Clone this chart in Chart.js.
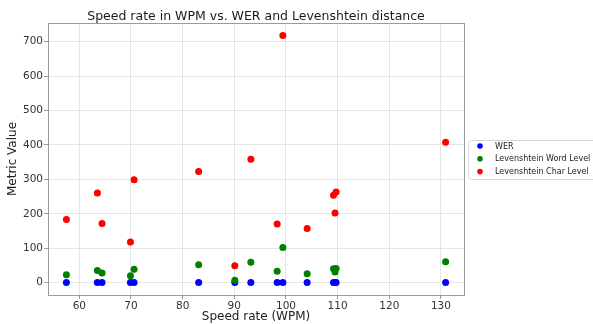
<!DOCTYPE html>
<html>
<head>
<meta charset="utf-8">
<script src="https://cdn.jsdelivr.net/npm/chart.js@4.4.1/dist/chart.umd.min.js"></script>
<style>
html,body{margin:0;padding:0;background:#fff;overflow:hidden;}
canvas{display:block;}
</style>
</head>
<body>
<canvas id="c" width="593" height="324"></canvas>
<script>
// ---- data ----
const chartTitle = "Speed rate in WPM vs. WER and Levenshtein distance";
const xTitle = "Speed rate (WPM)";
const yTitle = "Metric Value";
const seriesNames = ["WER", "Levenshtein Word Level", "Levenshtein Char Level"];
const seriesColors = ["#0000ff", "#008000", "#ff0000"];

const speedWPM   = [57.5, 63.5, 64.4, 69.9, 70.6, 83.1, 90.1, 93.2, 98.3, 99.4, 104.1, 109.2, 109.5, 109.7, 130.9];
const werValues  = [0.4, 0.5, 0.3, 0.3, 0.5, 0.4, 0.2, 0.6, 0.4, 0.6, 0.3, 0.5, 0.4, 0.5, 0.7];
const wordLevel  = [23, 35, 28, 20, 39, 52, 7, 59, 33, 102, 26, 40, 31, 41, 61];
const charLevel  = [183, 260, 172, 118, 299, 323, 49, 358, 170, 718, 157, 254, 202, 263, 408];

const xTickValues = [60, 70, 80, 90, 100, 110, 120, 130];
const yTickValues = [0, 100, 200, 300, 400, 500, 600, 700];
const xLimits = [53.94, 134.46];
const yLimits = [-35.9, 754];

const FONT = "'DejaVu Sans', sans-serif";

function pts(ys){ return speedWPM.map((x,i)=>({x:x, y:ys[i]})); }
const seriesValues = [werValues, wordLevel, charLevel];

const datasets = seriesNames.map((name, i) => ({
  label: name,
  data: pts(seriesValues[i]),
  backgroundColor: seriesColors[i],
  borderColor: seriesColors[i],
  borderWidth: 0,
  pointRadius: 3.5,
  pointHoverRadius: 3.5,
  order: 3 - i
}));

const framePlugin = {
  id: 'frame',
  afterDatasetsDraw(chart){
    const {ctx, chartArea:a} = chart;
    ctx.save();
    ctx.strokeStyle = '#9a9a9a';
    ctx.lineWidth = 1;
    ctx.strokeRect(Math.round(a.left)+0.5, Math.round(a.top)+0.5, Math.round(a.right-a.left), Math.round(a.bottom-a.top));
    ctx.restore();
  }
};

const titlePlugin = {
  id: 'mplTitle',
  afterDraw(chart){
    const {ctx, chartArea:a} = chart;
    ctx.save();
    ctx.font = "12.5px " + FONT;
    ctx.fillStyle = '#1a1a1a';
    ctx.textAlign = 'center';
    ctx.textBaseline = 'alphabetic';
    ctx.fillText(chartTitle, (a.left + a.right)/2, 20);
    ctx.restore();
  }
};

const legendPlugin = {
  id: 'mplLegend',
  afterDraw(chart){
    const {ctx} = chart;
    const x0 = 468.5, y0 = 140.5, w = 140, h = 39, r = 3;
    ctx.save();
    ctx.beginPath();
    ctx.moveTo(x0 + r, y0);
    ctx.lineTo(x0 + w, y0);
    ctx.lineTo(x0 + w, y0 + h);
    ctx.lineTo(x0 + r, y0 + h);
    ctx.arcTo(x0, y0 + h, x0, y0 + h - r, r);
    ctx.lineTo(x0, y0 + r);
    ctx.arcTo(x0, y0, x0 + r, y0, r);
    ctx.closePath();
    ctx.fillStyle = '#ffffff';
    ctx.fill();
    ctx.strokeStyle = '#d6d6d6';
    ctx.lineWidth = 1;
    ctx.stroke();
    ctx.font = "8px " + FONT;
    ctx.textBaseline = 'middle';
    ctx.textAlign = 'left';
    chart.data.datasets.forEach((ds, i) => {
      const cy = 146 + i * 12.8;
      ctx.beginPath();
      ctx.arc(480, cy, 2.8, 0, Math.PI*2);
      ctx.fillStyle = ds.backgroundColor;
      ctx.fill();
      ctx.fillStyle = '#222';
      ctx.fillText(ds.label, 495, cy + 0.5);
    });
    ctx.restore();
  }
};

new Chart(document.getElementById('c'), {
  type: 'scatter',
  data: { datasets },
  options: {
    responsive: false,
    animation: false,
    devicePixelRatio: 1,
    layout: { padding: { left: 0, top: 23, right: 129, bottom: 0 } },
    plugins: {
      legend: { display: false },
      title: { display: false },
      tooltip: { enabled: false }
    },
    scales: {
      x: {
        type: 'linear',
        min: xLimits[0], max: xLimits[1],
        afterFit(s){ s.height = 29; },
        afterBuildTicks(s){ s.ticks = xTickValues.map(v => ({value: v})); },
        grid: { color: '#e6e6e6', tickColor: '#9a9a9a', tickLength: 4, drawOnChartArea: true },
        border: { display: false },
        ticks: { font: { family: FONT, size: 10.5 }, color: '#333', padding: 1, maxRotation: 0, autoSkip: false },
        title: { display: true, text: xTitle, font: { family: FONT, size: 12 }, color: '#222', padding: { top: 0, bottom: 0 } }
      },
      y: {
        type: 'linear',
        min: yLimits[0], max: yLimits[1],
        afterFit(s){ s.width = 48; },
        afterBuildTicks(s){ s.ticks = yTickValues.map(v => ({value: v})); },
        grid: { color: '#e6e6e6', tickColor: '#9a9a9a', tickLength: 4 },
        border: { display: false },
        ticks: { font: { family: FONT, size: 10.5 }, color: '#333', padding: 1, autoSkip: false },
        title: { display: true, text: yTitle, font: { family: FONT, size: 12 }, color: '#222', padding: { top: 6, bottom: 0 } }
      }
    }
  },
  plugins: [framePlugin, titlePlugin, legendPlugin]
});
</script>
</body>
</html>
